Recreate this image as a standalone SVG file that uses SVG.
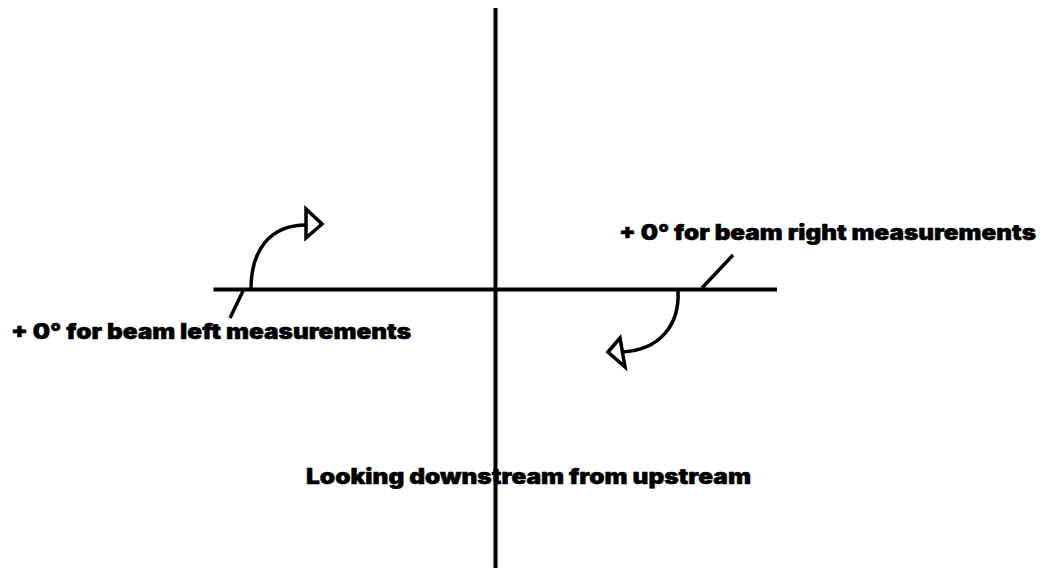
<svg xmlns="http://www.w3.org/2000/svg" width="1044" height="568" viewBox="0 0 1044 568">
<style>
.ln{stroke:#000;stroke-width:4;fill:none}
.thin{stroke:#000;stroke-width:3.5;fill:none}
.arr{stroke:#000;stroke-width:3.5;fill:#fff;stroke-linejoin:miter}
.t{font-family:Inter,"Liberation Sans",Arial,sans-serif;font-weight:900;font-size:21px;fill:#000;stroke:#000;stroke-width:0.5;stroke-linejoin:round}
</style>
<rect width="1044" height="568" fill="#fff"/>
<g id="axes">
<line class="ln" x1="495.5" y1="8" x2="495.5" y2="568"/>
<line class="ln" x1="213.5" y1="289.5" x2="777" y2="289.5"/>
</g>
<g id="connectors">
<path class="thin" d="M251,289 C251,250 270,225 306,225"/>
<polygon class="arr" points="306,209 306,238 322,224"/>
<line class="thin" x1="243" y1="291" x2="230" y2="318"/>
<path class="thin" d="M678,290 C680,325 660,350 622,352"/>
<polygon class="arr" points="608,352 620,338 625,367"/>
<line class="thin" x1="702" y1="288" x2="733" y2="255"/>
</g>
<g id="label-left"><text class="t" x="11" y="339" textLength="400" lengthAdjust="spacingAndGlyphs">+ 0° for beam left measurements</text></g>
<g id="label-right"><text class="t" x="619" y="240" textLength="417" lengthAdjust="spacingAndGlyphs">+ 0° for beam right measurements</text></g>
<g id="label-bottom"><text class="t" x="306" y="484" textLength="445" lengthAdjust="spacingAndGlyphs">Looking downstream from upstream</text></g>
</svg>
